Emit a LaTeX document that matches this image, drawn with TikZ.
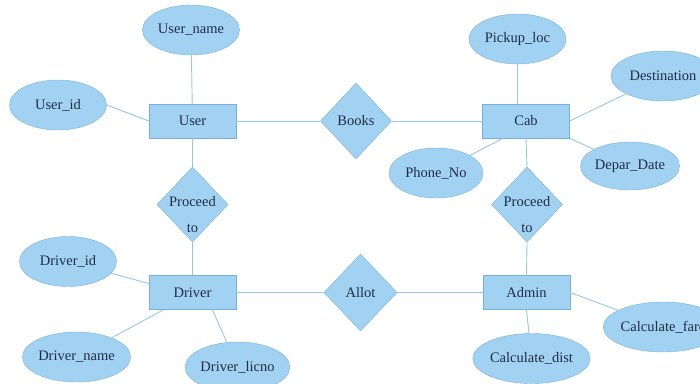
\documentclass[tikz,border=0pt]{standalone}
\usepackage{fontspec}
\setmainfont{Liberation Serif}
\usepackage{xcolor}
\usepackage{tikz}
\usetikzlibrary{shapes,positioning,calc}

\definecolor{erfill}{RGB}{162,210,241}
\definecolor{erdraw}{RGB}{118,176,222}
\definecolor{erline}{RGB}{148,200,232}
\definecolor{ertext}{RGB}{34,44,68}

\begin{document}
\begin{tikzpicture}[
    x=1pt, y=-1pt,
    entity/.style={rectangle, draw=erdraw, fill=erfill, minimum width=87pt, minimum height=34pt, inner sep=0pt, text=ertext, font=\fontsize{14.5}{16}\selectfont},
    attr/.style={ellipse, draw=erdraw, fill=erfill, minimum width=97pt, minimum height=50pt, inner sep=0pt, text=ertext, font=\fontsize{14.5}{16}\selectfont},
    rel/.style={diamond, draw=erdraw, fill=erfill, minimum width=71pt, minimum height=76pt, inner sep=0pt, text=ertext, font=\fontsize{14.5}{16}\selectfont},
    link/.style={draw=erline, line width=0.9pt},
    reltext/.style={align=center, text=ertext, font=\fontsize{14.5}{26}\selectfont}
]
    \clip (0,0) rectangle (700,383);

    % Entities
    \node[entity] (user) at (192.5,121) {User};
    \node[entity] (cab) at (526,121) {Cab};
    \node[entity] (driver) at (192.5,292.5) {Driver};
    \node[entity] (admin) at (526.5,292.5) {Admin};

    % Relationships
    \node[rel] (books) at (356,121) {Books};
    \node[rel, minimum width=73pt, minimum height=77pt] (allot) at (360.5,292.5) {Allot};
    \node[rel, minimum height=75pt] (proc1) at (192.5,204.5) {};
    \node[reltext] at ([yshift=-10.5pt]proc1) {Proceed\\to};
    \node[rel, minimum height=75pt] (proc2) at (527,204.5) {};
    \node[reltext] at ([yshift=-10.5pt]proc2) {Proceed\\to};

    % Attributes
    \node[attr] (username) at (191,30) {User\_name};
    \node[attr] (userid) at (58,105) {User\_id};
    \node[attr] (pickup) at (517.5,39) {Pickup\_loc};
    \node[attr, minimum width=104pt] (dest) at (663,76) {Destination};
    \node[attr, minimum width=94pt] (phone) at (436,173) {Phone\_No};
    \node[attr, minimum width=96pt, minimum height=48pt] (depar) at (630,166) {Depar\_Date};
    \node[attr] (driverid) at (68,261.5) {Driver\_id};
    \node[attr, minimum width=99pt] (drivername) at (76.5,357) {Driver\_name};
    \node[attr] (driverlicno) at (237.5,367) {Driver\_licno};
    \node[attr] (calcdist) at (531.5,358.5) {Calculate\_dist};
    \node[attr, minimum width=104pt] (calcfare) at (663,327) {Calculate\_fare};

    % Connectors
    \draw[link] (username) -- (user);
    \draw[link] (userid.east) -- (user.west);
    \draw[link] (user.east) -- (books.west);
    \draw[link] (books.east) -- (cab.west);
    \draw[link] (pickup.south) -- (pickup.south |- cab.north);
    \draw[link] (cab.east) -- (dest);
    \draw[link] ([xshift=-23pt]cab.south) -- (phone);
    \draw[link] (cab.south east) -- (depar);
    \draw[link] (user.south) -- (proc1.north);
    \draw[link] (proc1.south) -- (driver.north);
    \draw[link] (cab.south) -- (proc2.north);
    \draw[link] (proc2.south) -- (admin.north);
    \draw[link] (driver.east) -- (allot.west);
    \draw[link] (allot.east) -- (admin.west);
    \draw[link] ([yshift=9pt]driver.west) -- (driverid);
    \draw[link] ([xshift=-29pt]driver.south) -- (drivername);
    \draw[link] ([xshift=20pt]driver.south) -- (driverlicno);
    \draw[link] (admin.south) -- (calcdist);
    \draw[link] (admin.east) -- (calcfare);
\end{tikzpicture}
\end{document}
